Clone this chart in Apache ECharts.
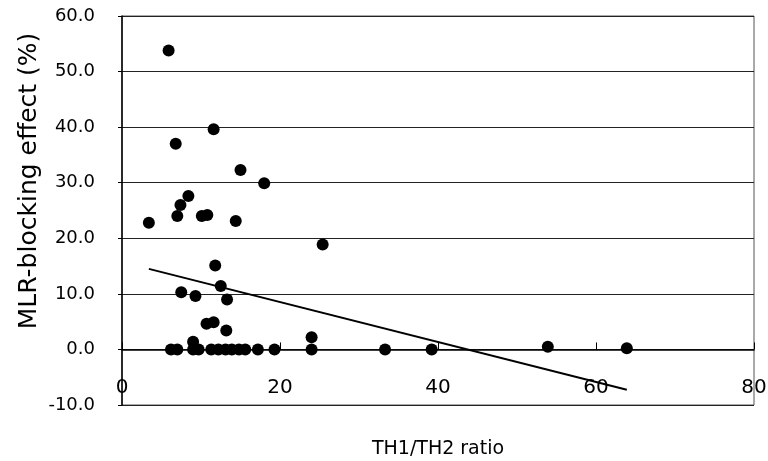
<!DOCTYPE html>
<html>
<head>
<meta charset="utf-8">
<script src="https://cdn.jsdelivr.net/npm/echarts@6/dist/echarts.min.js"></script>
<style>
  body{margin:0;background:#fff;}
  #chart{width:768px;height:461px;}
</style>
</head>
<body>
<div id="chart"></div>
<script>
  // TH1/TH2 ratio vs MLR-blocking effect (%)
  let ratioX = [5.9, 11.6, 6.8, 15.0, 18.0, 8.4, 7.4, 7.0, 10.1, 10.8, 3.4, 14.4, 25.4,
    11.8, 12.5, 7.5, 9.3, 13.3, 10.7, 11.6, 13.2, 9.0, 24.0, 53.9, 63.9,
    6.2, 7.0, 9.0, 9.7, 11.3, 12.2, 13.1, 13.9, 14.8, 15.6, 17.2, 19.3, 24.0, 33.3, 39.2]
  let effectY = [53.8, 39.6, 37.0, 32.3, 29.9, 27.6, 26.0, 24.0, 24.0, 24.2, 22.8, 23.1, 18.9,
    15.1, 11.4, 10.3, 9.6, 9.0, 4.6, 4.9, 3.4, 1.4, 2.2, 0.5, 0.2,
    0, 0, 0, 0, 0, 0, 0, 0, 0, 0, 0, 0, 0, 0, 0]
  // regression line end points
  let trendX = [3.4, 63.9]
  let trendY = [14.5, -7.25]
  let xTicks = [0, 80, 20]
  let yTicks = [-10, 60, 10]

  let points = ratioX.map(function (x, i) { return [x, effectY[i]] })
  let trend = trendX.map(function (x, i) { return [x, trendY[i]] })

  let myChart = echarts.init(document.getElementById('chart'))
  let font = 'DejaVu Sans'
  let option = {
    backgroundColor: '#fff',
    animation: false,
    grid: {
      left: 122,
      right: 14,
      top: 16,
      bottom: 56,
      outerBoundsMode: 'none',
      containLabel: false,
      show: true,
      borderColor: '#555',
      borderWidth: 1
    },
    xAxis: {
      type: 'value',
      min: xTicks[0],
      max: xTicks[1],
      interval: xTicks[2],
      name: 'TH1/TH2 ratio',
      nameLocation: 'middle',
      nameGap: 35,
      nameTextStyle: { fontFamily: font, fontSize: 19, color: '#000' },
      axisLine: { onZero: true, lineStyle: { color: '#000', width: 1.5 } },
      axisTick: { show: true, inside: true, length: 7, lineStyle: { color: '#000' } },
      // labels sit inside the plot, between the zero line and -10
      axisLabel: { margin: -27, fontFamily: font, fontSize: 20, color: '#000' },
      splitLine: { show: false }
    },
    yAxis: {
      type: 'value',
      min: yTicks[0],
      max: yTicks[1],
      interval: yTicks[2],
      axisLine: { show: true, lineStyle: { color: '#000', width: 1.5 } },
      axisTick: { show: true, length: 4, lineStyle: { color: '#000' } },
      axisLabel: {
        margin: 27,
        fontFamily: font,
        fontSize: 18,
        color: '#000',
        formatter: function (v) { return v.toFixed(1) }
      },
      splitLine: { show: true, lineStyle: { color: '#222', width: 1 } }
    },
    graphic: [{
      type: 'text',
      x: 29,
      y: 181,
      rotation: Math.PI / 2,
      style: {
        text: 'MLR-blocking effect (%)',
        fontFamily: font,
        fontSize: 25,
        fill: '#000',
        textAlign: 'center',
        textVerticalAlign: 'middle'
      }
    }],
    series: [
      {
        type: 'scatter',
        data: points,
        symbol: 'circle',
        symbolSize: 12,
        itemStyle: { color: '#000', opacity: 1 }
      },
      {
        type: 'line',
        data: trend,
        showSymbol: false,
        symbol: 'none',
        lineStyle: { color: '#000', width: 2 }
      }
    ]
  }
  myChart.setOption(option)
</script>
</body>
</html>
